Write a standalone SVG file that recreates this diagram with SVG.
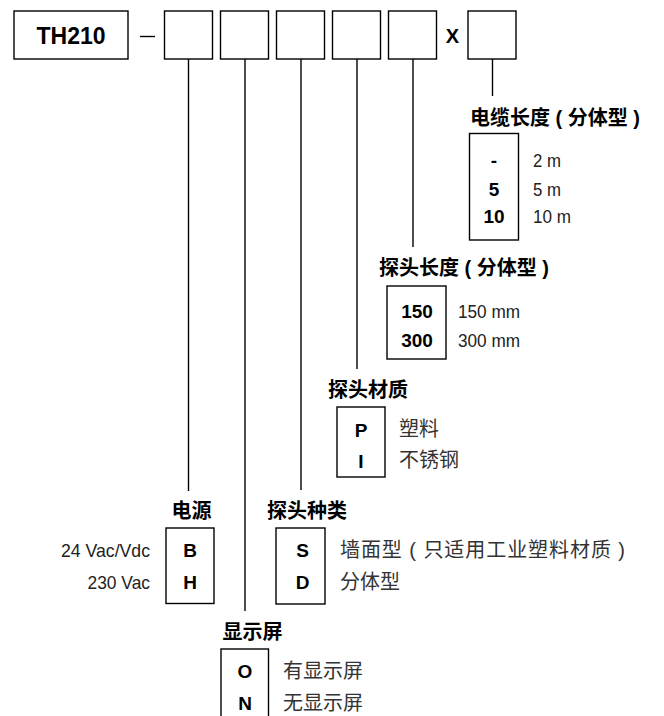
<svg xmlns="http://www.w3.org/2000/svg" width="664" height="716" viewBox="0 0 664 716">
<style>
.box{fill:#fff;stroke:#000;stroke-width:1.4}
.ln{stroke:#000;stroke-width:1.4;fill:none}
.code{font-family:"Liberation Sans",Arial,sans-serif;font-weight:bold;font-size:19px;fill:#000;text-anchor:middle}
.desc{font-family:"Liberation Sans",Arial,sans-serif;font-size:19px;fill:#222}
.cjk{font-family:"Liberation Sans","Noto Sans CJK SC",sans-serif;font-size:20px;fill:#333}
.title{font-family:"Liberation Sans","Noto Sans CJK SC",sans-serif;font-size:20px;font-weight:bold;fill:#000}
.big{font-family:"Liberation Sans",Arial,sans-serif;font-weight:bold;font-size:23px;fill:#000;text-anchor:middle}
</style>
<rect width="664" height="716" fill="#fff"/>
<g id="code-row">
  <rect class="box" x="14" y="11" width="114" height="48"/>
  <text class="big" x="71" y="44">TH210</text>
  <line class="ln" x1="140" y1="36.5" x2="155" y2="36.5"/>
  <rect class="box" x="164.5" y="11" width="48" height="48"/>
  <rect class="box" x="220.5" y="11" width="48" height="48"/>
  <rect class="box" x="276.5" y="11" width="48" height="48"/>
  <rect class="box" x="332.5" y="11" width="48" height="48"/>
  <rect class="box" x="388.5" y="11" width="48" height="48"/>
  <text class="big" x="452.5" y="43" style="font-size:20px">X</text>
  <rect class="box" x="468" y="11" width="48" height="48"/>
</g>
<g id="connectors">
  <line class="ln" x1="188.5" y1="59" x2="188.5" y2="491"/>
  <line class="ln" x1="245" y1="59" x2="245" y2="611"/>
  <line class="ln" x1="301" y1="59" x2="301" y2="490"/>
  <line class="ln" x1="357" y1="59" x2="357" y2="369"/>
  <line class="ln" x1="413" y1="59" x2="413" y2="247"/>
  <line class="ln" x1="492.5" y1="59" x2="492.5" y2="96"/>
</g>
<g id="cable-length">
  <text class="title" x="470" y="125">电缆长度 ( 分体型 )</text>
  <rect class="box" x="469.5" y="133.5" width="49" height="106.5"/>
  <text class="code" x="494" y="167">-</text>
  <text class="code" x="494" y="196">5</text>
  <text class="code" x="494" y="223">10</text>
  <text class="desc" x="533" y="167" textLength="28" lengthAdjust="spacingAndGlyphs">2 m</text>
  <text class="desc" x="533" y="196" textLength="28" lengthAdjust="spacingAndGlyphs">5 m</text>
  <text class="desc" x="533" y="223" textLength="38" lengthAdjust="spacingAndGlyphs">10 m</text>
</g>
<g id="probe-length">
  <text class="title" x="379" y="275">探头长度 ( 分体型 )</text>
  <rect class="box" x="387" y="286" width="59" height="73"/>
  <text class="code" x="417" y="318">150</text>
  <text class="code" x="417" y="347">300</text>
  <text class="desc" x="458" y="318" textLength="62" lengthAdjust="spacingAndGlyphs">150 mm</text>
  <text class="desc" x="458" y="347" textLength="62" lengthAdjust="spacingAndGlyphs">300 mm</text>
</g>
<g id="probe-material">
  <text class="title" x="328" y="397">探头材质</text>
  <rect class="box" x="337" y="407" width="48" height="70"/>
  <text class="code" x="361" y="437">P</text>
  <text class="code" x="361" y="468">I</text>
  <text class="cjk" x="399" y="436">塑料</text>
  <text class="cjk" x="399" y="467">不锈钢</text>
</g>
<g id="power">
  <text class="title" x="171.5" y="518">电源</text>
  <rect class="box" x="166" y="528" width="48" height="75.5"/>
  <text class="code" x="190" y="557">B</text>
  <text class="code" x="190" y="589">H</text>
  <text class="desc" x="61" y="557" textLength="89" lengthAdjust="spacingAndGlyphs">24 Vac/Vdc</text>
  <text class="desc" x="87.5" y="589" textLength="62.5" lengthAdjust="spacingAndGlyphs">230 Vac</text>
</g>
<g id="probe-type">
  <text class="title" x="267" y="518">探头种类</text>
  <rect class="box" x="276" y="528" width="49" height="76"/>
  <text class="code" x="302.5" y="557">S</text>
  <text class="code" x="302.5" y="589">D</text>
  <text class="cjk" x="340" y="557" textLength="285">墙面型 ( 只适用工业塑料材质 )</text>
  <text class="cjk" x="340" y="589">分体型</text>
</g>
<g id="display">
  <text class="title" x="222.5" y="639">显示屏</text>
  <rect class="box" x="221" y="649" width="47.5" height="90"/>
  <text class="code" x="245" y="678">O</text>
  <text class="code" x="245" y="710">N</text>
  <text class="cjk" x="283" y="678">有显示屏</text>
  <text class="cjk" x="283" y="710">无显示屏</text>
</g>
</svg>
